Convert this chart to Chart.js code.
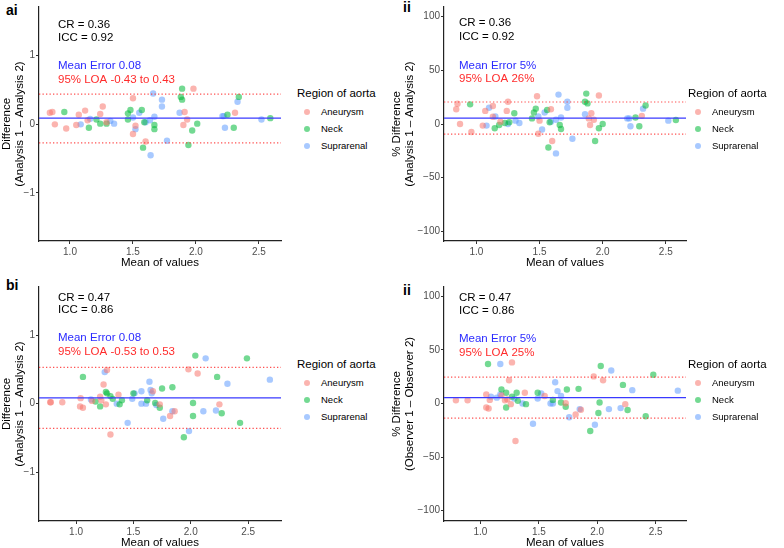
<!DOCTYPE html>
<html>
<head>
<meta charset="utf-8">
<script src="https://cdn.jsdelivr.net/npm/chart.js@4.4.1/dist/chart.umd.min.js"></script>
<style>
html, body { margin: 0; padding: 0; background: #fff; width: 784px; height: 548px; overflow: hidden; font-family: 'Liberation Sans', Arial, sans-serif; }
canvas { position: absolute; }
.lbl { position: absolute; font-weight: bold; font-size: 14px; line-height: 14px; color: #000; }
.legTitle { position: absolute; font-size: 11.5px; line-height: 14px; color: #000; white-space: nowrap; }
.legItem { position: absolute; font-size: 9.5px; line-height: 12px; color: #000; white-space: nowrap; }
.legDot { position: absolute; width: 6.4px; height: 6.4px; border-radius: 50%; }
</style>
</head>
<body>
<div class="lbl" style="left:6px;top:3px">ai</div>
<div class="lbl" style="left:403px;top:0px">ii</div>
<div class="lbl" style="left:6px;top:278px">bi</div>
<div class="lbl" style="left:403px;top:283px">ii</div>
<canvas id="pAi" width="290" height="270" style="left:0px;top:0px"></canvas>
<canvas id="pAii" width="300" height="270" style="left:390px;top:0px"></canvas>
<canvas id="pBi" width="290" height="270" style="left:0px;top:280px"></canvas>
<canvas id="pBii" width="300" height="270" style="left:390px;top:280px"></canvas>
<div id="legends"></div>
<script>
const $ = id => document.getElementById(id);

const groups = ['Aneurysm', 'Neck', 'Suprarenal'];
const groupColors = ['rgba(248,118,109,0.55)', 'rgba(0,186,56,0.55)', 'rgba(97,156,255,0.55)'];

const xTicks = [1.0, 1.5, 2.0, 2.5];
const xTickLabels = ['1.0', '1.5', '2.0', '2.5'];
const diffTicks = [-1, 0, 1];
const diffTickLabels = ['\u22121', '0', '1'];
const pctTicks = [-100, -50, 0, 50, 100];
const pctTickLabels = ['\u2212100', '\u221250', '0', '50', '100'];

const crLabels = ['CR = 0.36', 'CR = 0.36', 'CR = 0.47', 'CR = 0.47'];
const iccLabels = ['ICC = 0.92', 'ICC = 0.92', 'ICC = 0.86', 'ICC = 0.86'];
const meanLabels = ['Mean Error 0.08', 'Mean Error 5%', 'Mean Error 0.08', 'Mean Error 5%'];
const loaLabels = ['95% LOA -0.43 to 0.43', '95% LOA 26%', '95% LOA -0.53 to 0.53', '95% LOA 25%'];

const meanLines = [0.09, 5.5, 0.085, 5.5];
const upperLines = [0.44, 20.5, 0.53, 24.7];
const lowerLines = [-0.27, -9.5, -0.36, -13.7];

// panel ai : difference
const aiAneurysm = [[0.84,0.17],[0.86,0.18],[0.88,0.00],[0.97,-0.06],[1.05,-0.01],[1.07,0.14],[1.12,0.20],[1.14,0.06],[1.24,0.15],[1.26,0.26],[1.29,0.03],[1.50,0.38],[1.52,-0.02],[1.50,-0.14],[1.60,-0.25],[1.90,-0.01],[1.91,0.18],[1.93,0.07],[1.98,0.52],[2.31,0.17]];
const aiNeck = [[0.955,0.18],[1.15,-0.05],[1.21,0.07],[1.24,0.01],[1.29,0.01],[1.46,0.16],[1.46,0.07],[1.48,0.21],[1.57,0.21],[1.59,0.03],[1.67,-0.01],[1.67,-0.07],[1.89,0.52],[1.88,0.40],[1.89,0.36],[1.97,-0.09],[2.01,0.01],[2.25,0.14],[2.30,-0.05],[2.34,0.40],[2.59,0.09],[1.58,-0.34],[1.94,-0.30]];
const aiSuprarenal = [[1.085,0.00],[1.16,0.08],[1.32,0.05],[1.35,0.01],[1.50,0.10],[1.52,-0.07],[1.55,0.17],[1.60,0.03],[1.635,0.06],[1.67,0.11],[1.66,0.45],[1.73,0.36],[1.73,0.26],[1.87,0.17],[2.21,0.12],[2.22,0.12],[2.23,-0.05],[2.33,0.33],[2.52,0.07],[1.64,-0.45],[1.77,-0.24]];

// panel ii (top) : % difference
const aiiAneurysm = [[0.84,13.7],[0.85,18.9],[0.87,0],[0.96,-7.5],[1.05,-1.5],[1.07,12.2],[1.13,6.7],[1.13,16.8],[1.19,2.2],[1.24,12.2],[1.25,20.7],[1.48,25.9],[1.50,3.1],[1.49,-9.1],[1.59,13.7],[1.60,-15.8],[1.89,5.2],[1.91,10],[1.93,4],[1.97,26.5],[1.90,-0.9],[2.31,7.6]];
const aiiNeck = [[0.95,18.3],[1.145,-3.9],[1.18,-0.9],[1.225,0.9],[1.26,1.6],[1.30,10],[1.44,5.2],[1.455,10.7],[1.47,14.3],[1.56,13.1],[1.58,1.6],[1.66,-0.9],[1.67,-4.6],[1.87,28.3],[1.86,20.7],[1.88,19.2],[1.97,-3.9],[2.0,0],[2.26,6.1],[2.29,-2.1],[2.34,17.3],[2.58,3.7],[1.57,-21.9],[1.94,-15.8]];
const aiiSuprarenal = [[1.08,-1.5],[1.10,15.2],[1.15,7],[1.25,0],[1.31,3.1],[1.34,0.9],[1.49,7],[1.52,-5.1],[1.54,10.7],[1.59,2.2],[1.63,4],[1.67,6.1],[1.65,27.4],[1.72,20.7],[1.72,15.2],[1.86,9.1],[2.195,5.2],[2.21,5.2],[2.22,-2.1],[2.32,14.3],[2.52,3.1],[1.63,-27.4],[1.76,-13.7]];

// panel bi : difference
const biAneurysm = [[0.775,0.02],[0.78,0.02],[0.88,0.02],[1.04,0.08],[1.035,-0.04],[1.06,-0.06],[1.14,0.04],[1.21,0.10],[1.22,0.05],[1.24,0.28],[1.27,0.49],[1.26,-0.01],[1.37,0.13],[1.67,0.18],[1.73,-0.01],[1.98,0.50],[2.06,0.44],[2.25,-0.01],[1.30,-0.45],[1.82,-0.18],[1.86,-0.11]];
const biNeck = [[1.06,0.39],[1.17,0.03],[1.21,-0.04],[1.26,0.17],[1.27,0.15],[1.30,0.11],[1.32,0.07],[1.40,0.05],[1.38,-0.01],[1.50,0.15],[1.62,0.05],[1.69,0.01],[1.75,0.22],[1.73,-0.06],[1.84,0.24],[2.04,0.70],[2.02,0.01],[2.23,0.39],[2.49,0.66],[1.94,-0.49],[2.02,-0.18],[2.27,-0.14],[2.43,-0.28]];
const biSuprarenal = [[1.25,0.46],[1.13,0.06],[1.355,0],[1.49,0.07],[1.51,0.15],[1.57,0.18],[1.64,0.32],[1.57,0],[1.61,0],[1.65,0.20],[1.70,-0.02],[1.66,0.15],[2.13,0.66],[2.32,0.29],[2.69,0.35],[1.45,-0.28],[1.76,-0.22],[1.84,-0.11],[1.985,-0.40],[2.11,-0.11],[2.22,-0.10]];

// panel ii (bottom) : % difference
const biiAneurysm = [[0.79,3],[0.89,3],[1.05,8.5],[1.08,3.4],[1.18,7.6],[1.21,3],[1.245,21.7],[1.27,38.4],[1.23,3.9],[1.38,10.1],[1.55,7],[1.97,25.3],[2.05,21.7],[2.24,-0.6],[1.05,-3.7],[1.07,-4.6],[1.26,-0.6],[1.30,-35],[1.815,-10.3],[1.86,-5.8],[1.73,0.3]];
const biiNeck = [[1.065,36.9],[1.18,13.1],[1.22,10.1],[1.27,6.4],[1.31,10.1],[1.32,2.5],[1.22,-3.7],[1.49,10.1],[1.62,3.4],[1.69,0.9],[1.74,13.1],[1.84,13.7],[2.03,35],[2.02,0.9],[2.22,17.4],[2.48,26.8],[1.39,-0.6],[1.73,-3],[1.94,-25.6],[2.01,-8.9],[2.26,-6.1],[2.415,-11.9]];
const biiSuprarenal = [[1.17,36.9],[1.09,6.4],[1.14,5.5],[1.17,8.5],[1.29,4.6],[1.36,0],[1.49,4.6],[1.52,9.4],[1.60,0],[1.62,0],[1.64,19.8],[1.66,11.6],[1.69,7],[2.12,30.8],[2.30,12.5],[2.69,12],[1.45,-18.9],[1.76,-12.8],[1.85,-5.2],[1.98,-19.8],[2.10,-5.2],[2.20,-4.3]];

const panels = [
    { el: 'pAi', pts: [aiAneurysm, aiNeck, aiSuprarenal], x: [0.754, 2.675], y: [-1.70, 1.71],
      ticks: diffTicks, tickLabels: diffTickLabels, title: ['Difference', '(Analysis 1 \u2013 Analysis 2)'],
      yw: 39, padRight: 9, textDx: 19, textDy: [18, 31, 59, 73] },
    { el: 'pAii', pts: [aiiAneurysm, aiiNeck, aiiSuprarenal], x: [0.743, 2.66], y: [-109, 109],
      ticks: pctTicks, tickLabels: pctTickLabels, title: ['% Difference', '(Analysis 1 \u2013 Analysis 2)'],
      yw: 54, padRight: 4, textDx: 15, textDy: [16, 30, 59, 72] },
    { el: 'pBi', pts: [biAneurysm, biNeck, biSuprarenal], x: [0.677, 2.787], y: [-1.71, 1.70],
      ticks: diffTicks, tickLabels: diffTickLabels, title: ['Difference', '(Analysis 1 \u2013 Analysis 2)'],
      yw: 39, padRight: 9, textDx: 19, textDy: [11, 23, 51, 65] },
    { el: 'pBii', pts: [biiAneurysm, biiNeck, biiSuprarenal], x: [0.688, 2.76], y: [-109.7, 108.8],
      ticks: pctTicks, tickLabels: pctTickLabels, title: ['% Difference', '(Observer 1 \u2013 Observer 2)'],
      yw: 54, padRight: 4, textDx: 15, textDy: [11, 24, 52, 66] }
];

Chart.defaults.font.family = "'Liberation Sans', Arial, sans-serif";

const annotations = {
    id: 'annotations',
    afterDraw(chart) {
        const i = chart.options.plugins.annotations.index;
        const p = panels[i];
        const ctx = chart.ctx;
        const a = chart.chartArea;
        const lines = [[crLabels[i], '#000'], [iccLabels[i], '#000'], [meanLabels[i], '#2b2bff'], [loaLabels[i], '#ff2b2b']];
        ctx.save();
        ctx.font = "11.5px 'Liberation Sans', Arial, sans-serif";
        ctx.textBaseline = 'middle';
        ctx.textAlign = 'left';
        lines.forEach((l, k) => {
            ctx.fillStyle = l[1];
            ctx.fillText(l[0], a.left + p.textDx, a.top + p.textDy[k]);
        });
        ctx.restore();
    }
};

function hLine(p, v, color, dash) {
    return {
        type: 'line',
        data: [{ x: p.x[0], y: v }, { x: p.x[1], y: v }],
        borderColor: color,
        borderWidth: 1.2,
        borderDash: dash,
        pointRadius: 0,
        order: 1
    };
}

function dibuixar(p, i) {
    const datasets = p.pts.map((pts, g) => ({
        type: 'scatter',
        label: groups[g],
        data: pts.map(d => ({ x: d[0], y: d[1] })),
        backgroundColor: groupColors[g],
        borderWidth: 0,
        pointRadius: 3.2,
        order: 2
    }));
    datasets.push(hLine(p, upperLines[i], 'rgba(255,50,50,0.85)', [1.3, 2.2]));
    datasets.push(hLine(p, lowerLines[i], 'rgba(255,50,50,0.85)', [1.3, 2.2]));
    datasets.push(hLine(p, meanLines[i], '#3a3aff', []));

    const axisGrid = { display: true, drawOnChartArea: false, drawTicks: true, tickLength: 3, color: '#333', lineWidth: 1 };
    const axisBorder = { display: true, color: '#222', width: 1.2 };

    new Chart($(p.el).getContext('2d'), {
        type: 'scatter',
        data: { datasets },
        plugins: [annotations],
        options: {
            responsive: false,
            animation: false,
            layout: { padding: { top: 2, right: p.padRight, left: 0, bottom: 0 } },
            plugins: {
                legend: { display: false },
                tooltip: { enabled: false },
                annotations: { index: i }
            },
            scales: {
                x: {
                    type: 'linear',
                    min: p.x[0],
                    max: p.x[1],
                    afterBuildTicks: s => { s.ticks = xTicks.map(v => ({ value: v })); },
                    afterFit: s => { s.height = 29; },
                    ticks: { callback: (v, k) => xTickLabels[k], font: { size: 10 }, color: '#4d4d4d', padding: 2, maxRotation: 0 },
                    grid: axisGrid,
                    border: axisBorder,
                    title: { display: true, text: 'Mean of values', font: { size: 11.5, lineHeight: 1.2 }, color: '#000', padding: 0 }
                },
                y: {
                    type: 'linear',
                    min: p.y[0],
                    max: p.y[1],
                    afterBuildTicks: s => { s.ticks = p.ticks.map(v => ({ value: v })); },
                    afterFit: s => { s.width = p.yw; },
                    ticks: { callback: (v, k) => p.tickLabels[k], font: { size: 10 }, color: '#4d4d4d', padding: 1 },
                    grid: axisGrid,
                    border: axisBorder,
                    title: { display: true, text: p.title, font: { size: 11.5, lineHeight: 1.15 }, color: '#000', padding: 0 }
                }
            }
        }
    });
}

function llegenda(left, titleTop) {
    const box = $('legends');
    const t = document.createElement('div');
    t.className = 'legTitle';
    t.style.left = left + 'px';
    t.style.top = titleTop + 'px';
    t.textContent = 'Region of aorta';
    box.appendChild(t);
    groups.forEach((g, k) => {
        const cy = titleTop + 26 + k * 17;
        const d = document.createElement('div');
        d.className = 'legDot';
        d.style.left = (left + 6.8) + 'px';
        d.style.top = (cy - 3.2) + 'px';
        d.style.background = groupColors[k];
        box.appendChild(d);
        const l = document.createElement('div');
        l.className = 'legItem';
        l.style.left = (left + 24) + 'px';
        l.style.top = (cy - 6) + 'px';
        l.textContent = g;
        box.appendChild(l);
    });
}

document.addEventListener('DOMContentLoaded', () => {
    panels.forEach(dibuixar);
    llegenda(297, 86);
    llegenda(688, 86);
    llegenda(297, 357);
    llegenda(688, 357);
});
</script>
</body>
</html>
